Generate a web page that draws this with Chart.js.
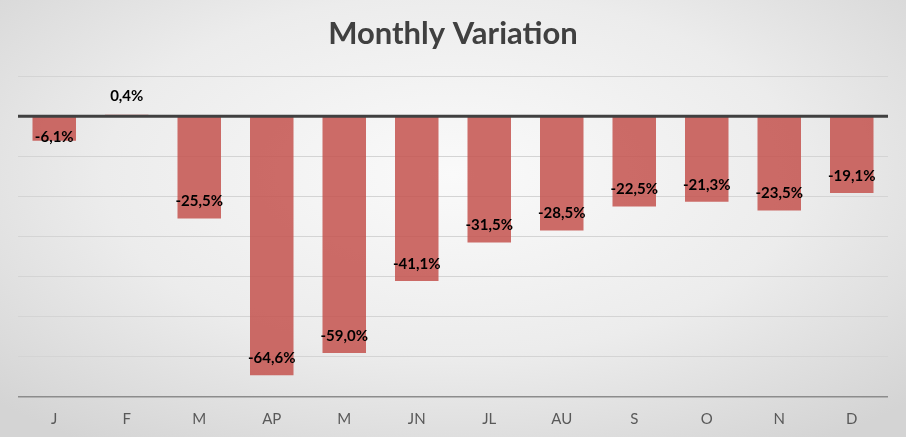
<!DOCTYPE html>
<html>
<head>
<meta charset="utf-8">
<script src="https://cdn.jsdelivr.net/npm/chart.js@4.4.1/dist/chart.umd.min.js"></script>
<style>
html, body { margin: 0; padding: 0; }
body {
    width: 906px; height: 437px; overflow: hidden;
    background: radial-gradient(ellipse 70% 75% at 50% 40%, #fafafa 0%, #ececec 55%, #d4d4d4 100%);
}
</style>
</head>
<body>
<canvas id="chart" width="906" height="437"></canvas>
<script>
var months = ["J", "F", "M", "AP", "M", "JN", "JL", "AU", "S", "O", "N", "D"];
var variation = [-6.1, 0.4, -25.5, -64.6, -59.0, -41.1, -31.5, -28.5, -22.5, -21.3, -23.5, -19.1];
var yMin = -70, yMax = 10, yStep = 10;

var fmt = function(v){ return v.toFixed(1).replace(".", ",") + "%"; };

// zero axis line on top of the bars + the value labels
var barLabels = {
    id: "barLabels",
    afterDatasetsDraw: function(chart){
        var ctx = chart.ctx;
        var y = chart.scales.y;
        var area = chart.chartArea;
        var zero = y.getPixelForValue(0);
        ctx.save();
        ctx.strokeStyle = "#404040";
        ctx.lineWidth = 3;
        ctx.beginPath();
        ctx.moveTo(area.left, zero);
        ctx.lineTo(area.right, zero);
        ctx.stroke();

        ctx.font = "bold 15px Lato";
        ctx.fillStyle = "#000";
        ctx.textAlign = "center";
        ctx.textBaseline = "middle";
        var meta = chart.getDatasetMeta(0);
        meta.data.forEach(function(bar, i){
            var v = variation[i];
            var ty;
            if (v < 0) ty = Math.max(bar.y - 17, zero + 21);
            else ty = bar.y - 19;
            ctx.fillText(fmt(v), bar.x, ty);
        });
        ctx.restore();
    }
};

new Chart(document.getElementById("chart"), {
    type: "bar",
    data: {
        labels: months,
        datasets: [{
            data: variation,
            backgroundColor: "rgba(196,82,78,0.85)",
            borderWidth: 0,
            categoryPercentage: 1,
            barPercentage: 0.6
        }]
    },
    options: {
        responsive: false,
        animation: false,
        layout: { padding: { left: 18, right: 18, top: 0, bottom: 4 } },
        plugins: {
            legend: { display: false },
            tooltip: { enabled: false },
            title: {
                display: true,
                text: "Monthly Variation",
                color: "#404040",
                font: { family: "Lato", size: 31, weight: "bold" },
                padding: { top: 15, bottom: 24 }
            }
        },
        scales: {
            x: {
                grid: { display: false },
                border: { display: false },
                ticks: { color: "#595959", font: { family: "Lato", size: 15 }, padding: 5 }
            },
            y: {
                min: yMin, max: yMax,
                ticks: { display: false, stepSize: yStep },
                border: { display: false },
                grid: {
                    drawTicks: false,
                    color: function(c){ return c.tick.value === yMin ? "#8c8c8c" : "#d4d4d4"; },
                    lineWidth: function(c){ return c.tick.value === yMin ? 1.5 : 1; }
                }
            }
        }
    },
    plugins: [barLabels]
});
</script>
</body>
</html>
